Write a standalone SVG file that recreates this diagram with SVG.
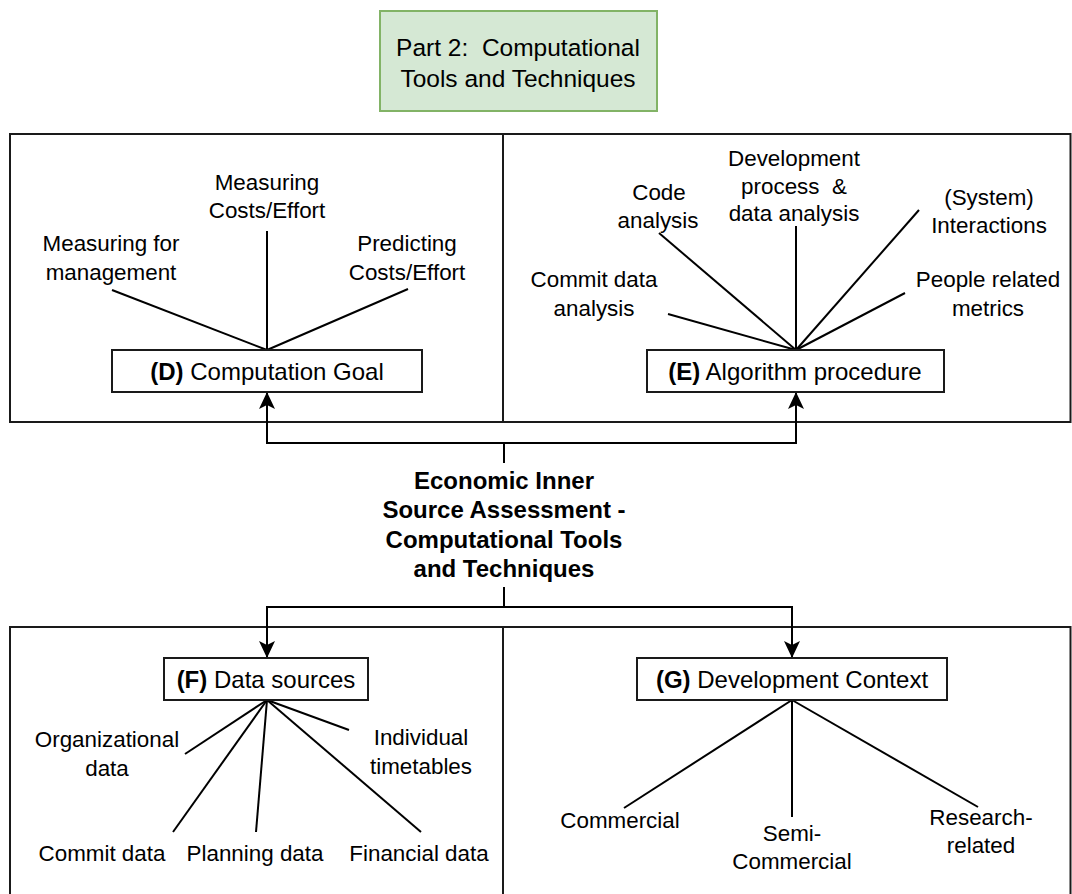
<svg xmlns="http://www.w3.org/2000/svg" width="1072" height="894" viewBox="0 0 1072 894">
  <style>
    text { font-family: "Liberation Sans", Arial, sans-serif; fill: #000; text-anchor: middle; white-space: pre; }
    .lbl { font-size: 22.4px; }
    .box-t { font-size: 24px; }
    .title { font-size: 24.5px; }
    .core { font-size: 24px; font-weight: bold; }
    .panel { fill: #fff; stroke: #1a1a1a; stroke-width: 2; }
    .node { fill: #fff; stroke: #1a1a1a; stroke-width: 2; }
    .spoke { stroke: #000; stroke-width: 2; fill: none; }
    .link { stroke: #000; stroke-width: 2; fill: none; }
  </style>
  <defs>
    <marker id="arrow" viewBox="0 0 17 16" refX="16" refY="8" markerWidth="17" markerHeight="16" markerUnits="userSpaceOnUse" orient="auto">
      <path d="M0,0 L17,8 L0,16 L4,8 Z" fill="#000"/>
    </marker>
  </defs>

  <rect width="1072" height="894" fill="#fff"/>

  <!-- Heading -->
  <g id="part-title">
    <rect x="380" y="11" width="277" height="100" fill="#d5e8d4" stroke="#82b366" stroke-width="2"/>
    <text class="title" x="518" y="56" xml:space="preserve">Part 2:  Computational</text>
    <text class="title" x="518" y="87">Tools and Techniques</text>
  </g>

  <!-- Panels -->
  <g id="panels">
    <rect class="panel" x="10" y="134" width="493" height="288"/>
    <rect class="panel" x="503" y="134" width="567.5" height="288"/>
    <rect class="panel" x="10" y="627" width="493" height="290"/>
    <rect class="panel" x="503" y="627" width="567.5" height="290"/>
  </g>

  <!-- Connectors -->
  <g id="connectors">
    <!-- computation goal spokes -->
    <line class="spoke" x1="112" y1="290" x2="267" y2="350"/>
    <line class="spoke" x1="267" y1="231" x2="267" y2="350"/>
    <line class="spoke" x1="408" y1="289" x2="267" y2="350"/>
    <!-- algorithm procedure spokes -->
    <line class="spoke" x1="668" y1="314" x2="796" y2="350"/>
    <line class="spoke" x1="659" y1="233" x2="796" y2="350"/>
    <line class="spoke" x1="796" y1="226" x2="796" y2="350"/>
    <line class="spoke" x1="919" y1="210" x2="796" y2="350"/>
    <line class="spoke" x1="905" y1="293" x2="796" y2="350"/>
    <!-- data source spokes -->
    <line class="spoke" x1="267" y1="700" x2="185" y2="754"/>
    <line class="spoke" x1="267" y1="700" x2="173" y2="832"/>
    <line class="spoke" x1="267" y1="700" x2="256" y2="832"/>
    <line class="spoke" x1="267" y1="700" x2="421" y2="832"/>
    <line class="spoke" x1="267" y1="700" x2="349" y2="730"/>
    <!-- development context spokes -->
    <line class="spoke" x1="792" y1="700" x2="624" y2="808"/>
    <line class="spoke" x1="792" y1="700" x2="792" y2="817"/>
    <line class="spoke" x1="792" y1="700" x2="978" y2="807"/>
    <!-- core to upper categories -->
    <line class="link" x1="504" y1="463" x2="504" y2="443"/>
    <polyline class="link" points="504,443 267,443 267,393" marker-end="url(#arrow)"/>
    <polyline class="link" points="504,443 796,443 796,393" marker-end="url(#arrow)"/>
    <!-- core to lower categories -->
    <line class="link" x1="504" y1="587" x2="504" y2="607"/>
    <polyline class="link" points="504,607 267,607 267,657" marker-end="url(#arrow)"/>
    <polyline class="link" points="504,607 792,607 792,657" marker-end="url(#arrow)"/>
  </g>

  <!-- (D) Computation Goal -->
  <g id="goal">
    <rect class="node" x="112" y="350" width="310" height="42"/>
    <text class="box-t" x="267" y="380"><tspan font-weight="bold">(D)</tspan> Computation Goal</text>
    <text class="lbl" x="267" y="190">Measuring</text>
    <text class="lbl" x="267" y="218">Costs/Effort</text>
    <text class="lbl" x="111" y="251">Measuring for</text>
    <text class="lbl" x="111" y="280">management</text>
    <text class="lbl" x="407" y="251">Predicting</text>
    <text class="lbl" x="407" y="280">Costs/Effort</text>
  </g>

  <!-- (E) Algorithm procedure -->
  <g id="algorithm">
    <rect class="node" x="647" y="350" width="297" height="42"/>
    <text class="box-t" x="795" y="380"><tspan font-weight="bold">(E)</tspan> Algorithm procedure</text>
    <text class="lbl" x="794" y="166">Development</text>
    <text class="lbl" x="794" y="194" xml:space="preserve">process  &amp;</text>
    <text class="lbl" x="794" y="221">data analysis</text>
    <text class="lbl" x="659" y="200">Code</text>
    <text class="lbl" x="658" y="228">analysis</text>
    <text class="lbl" x="989" y="205">(System)</text>
    <text class="lbl" x="989" y="233">Interactions</text>
    <text class="lbl" x="594" y="287">Commit data</text>
    <text class="lbl" x="594" y="316">analysis</text>
    <text class="lbl" x="988" y="287">People related</text>
    <text class="lbl" x="988" y="316">metrics</text>
  </g>

  <!-- Core topic -->
  <g id="core">
    <text class="core" x="504" y="489">Economic Inner</text>
    <text class="core" x="504" y="518">Source Assessment -</text>
    <text class="core" x="504" y="548">Computational Tools</text>
    <text class="core" x="504" y="577">and Techniques</text>
  </g>

  <!-- (F) Data sources -->
  <g id="data-sources">
    <rect class="node" x="164" y="658" width="204" height="42"/>
    <text class="box-t" x="266" y="688"><tspan font-weight="bold">(F)</tspan> Data sources</text>
    <text class="lbl" x="107" y="747">Organizational</text>
    <text class="lbl" x="107" y="776">data</text>
    <text class="lbl" x="421" y="745">Individual</text>
    <text class="lbl" x="421" y="774">timetables</text>
    <text class="lbl" x="102" y="861">Commit data</text>
    <text class="lbl" x="255" y="861">Planning data</text>
    <text class="lbl" x="419" y="861">Financial data</text>
  </g>

  <!-- (G) Development Context -->
  <g id="dev-context">
    <rect class="node" x="637" y="658" width="310" height="42"/>
    <text class="box-t" x="792" y="688"><tspan font-weight="bold">(G)</tspan> Development Context</text>
    <text class="lbl" x="620" y="828">Commercial</text>
    <text class="lbl" x="792" y="841">Semi-</text>
    <text class="lbl" x="792" y="869">Commercial</text>
    <text class="lbl" x="981" y="825">Research-</text>
    <text class="lbl" x="981" y="853">related</text>
  </g>
</svg>
